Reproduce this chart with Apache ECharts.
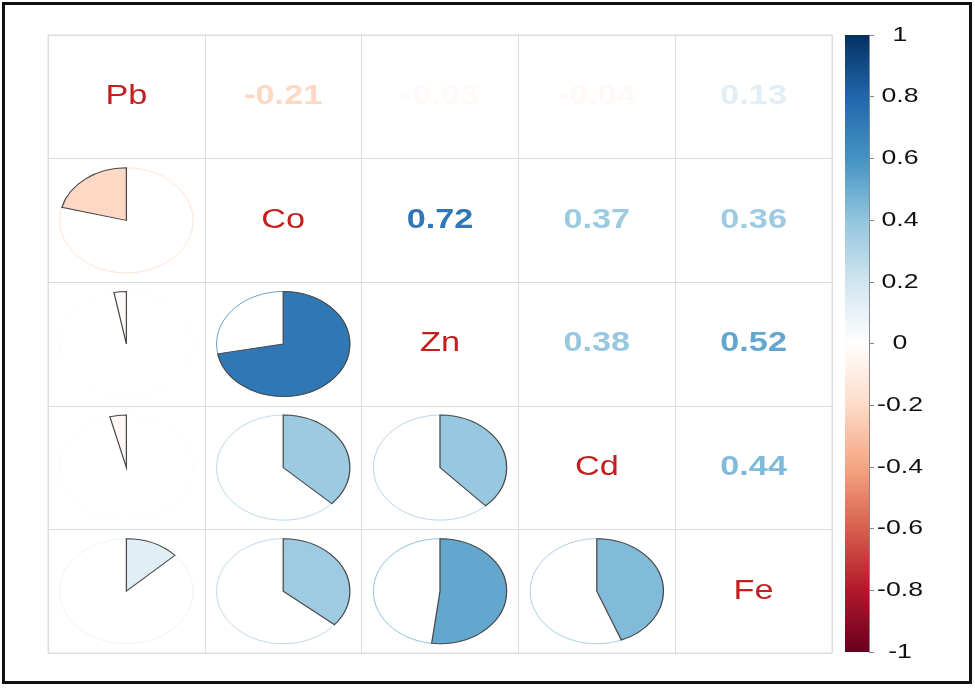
<!DOCTYPE html>
<html>
<head>
<meta charset="utf-8">
<script src="https://cdn.jsdelivr.net/npm/echarts@6/dist/echarts.min.js"></script>
<style>
  html, body { margin: 0; padding: 0; background: #fff; }
  #main { width: 975px; height: 689px; }
</style>
</head>
<body>
<div id="main"></div>
<script>
// variables (diagonal labels)
var vars = ['Pb', 'Co', 'Zn', 'Cd', 'Fe'];
// correlation matrix, row by row
var rowPb = [1, -0.21, -0.03, -0.04, 0.13];
var rowCo = [-0.21, 1, 0.72, 0.37, 0.36];
var rowZn = [-0.03, 0.72, 1, 0.38, 0.52];
var rowCd = [-0.04, 0.37, 0.38, 1, 0.44];
var rowFe = [0.13, 0.36, 0.52, 0.44, 1];
var corr = [rowPb, rowCo, rowZn, rowCd, rowFe];
// colour bar ticks
var tickValues = [1, 0.8, 0.6, 0.4, 0.2, 0, -0.2, -0.4, -0.6, -0.8, -1];
var tickLabels = ['1', '0.8', '0.6', '0.4', '0.2', '0', '-0.2', '-0.4', '-0.6', '-0.8', '-1'];
// RdBu palette, from -1 to 1
var palette = ['#67001F', '#B2182B', '#D6604D', '#F4A582', '#FDDBC7', '#FFFFFF',
               '#D1E5F0', '#92C5DE', '#4393C3', '#2166AC', '#053061'];

function hexRgb(h){
    return [parseInt(h.substr(1,2),16), parseInt(h.substr(3,2),16), parseInt(h.substr(5,2),16)];
}
function valColor(v){
    var p = (v + 1) / 2 * (palette.length - 1);
    var i = Math.min(Math.floor(p), palette.length - 2);
    var t = p - i;
    var a = hexRgb(palette[i]), b = hexRgb(palette[i+1]);
    var c = a.map(function(x, k){ return Math.round(x + (b[k] - x) * t); });
    return 'rgb(' + c.join(',') + ')';
}

var labelCells = [], numCells = [], pieCells = [];
for (var i = 0; i < vars.length; i++){
    for (var j = 0; j < vars.length; j++){
        if (i === j) labelCells.push([j, i, vars[i]]);
        else if (j > i) numCells.push([j, i, corr[i][j]]);
        else pieCells.push([j, i, corr[i][j]]);
    }
}

var dom = document.getElementById('main');
var myChart = echarts.init(dom);

var FONT = '"Liberation Sans", Arial, sans-serif';

myChart.setOption({
    backgroundColor: '#fff',
    animation: false,
    graphic: [{
        type: 'rect',
        shape: { x: 3.5, y: 3.5, width: 967, height: 679 },
        style: { fill: 'none', stroke: '#111', lineWidth: 3 },
        z: 100
    }],
    grid: [
        { left: 48, top: 35, width: 784, height: 618, show: true, borderColor: '#dcdcdc', borderWidth: 1 },
        { left: 845, top: 35, width: 24, height: 617 }
    ],
    xAxis: [
        {
            gridIndex: 0, type: 'category', data: vars,
            axisLine: { show: false }, axisTick: { show: false }, axisLabel: { show: false },
            splitLine: { show: true, lineStyle: { color: '#dcdcdc', width: 1 } }
        },
        {
            gridIndex: 1, type: 'category', data: ['bar'],
            axisLine: { show: false }, axisTick: { show: false }, axisLabel: { show: false }
        }
    ],
    yAxis: [
        {
            gridIndex: 0, type: 'category', data: vars, inverse: true,
            axisLine: { show: false }, axisTick: { show: false }, axisLabel: { show: false },
            splitLine: { show: true, lineStyle: { color: '#dcdcdc', width: 1 } }
        },
        {
            gridIndex: 1, type: 'value', min: -1, max: 1, interval: 0.2, position: 'right',
            axisLine: { show: true, lineStyle: { color: '#888', width: 1 } },
            axisTick: { show: true, length: 5, lineStyle: { color: '#888' } },
            axisLabel: { show: false },
            splitLine: { show: false }
        }
    ],
    series: [
        {
            // pies in the lower triangle
            type: 'custom', xAxisIndex: 0, yAxisIndex: 0,
            data: pieCells,
            renderItem: function(params, api){
                var c = api.coord([api.value(0), api.value(1)]);
                var s = api.size([1, 1]);
                var sx = s[0] / s[1];
                var r = s[1] * 0.425;
                var v = api.value(2);
                var col = valColor(v);
                var a0 = -Math.PI / 2, a1 = -Math.PI / 2 + 2 * Math.PI * v;
                return {
                    type: 'group',
                    children: [
                        {
                            type: 'ellipse',
                            shape: { cx: c[0], cy: c[1], rx: r * sx, ry: r },
                            style: { fill: 'none', stroke: col, lineWidth: 1, opacity: 0.7 }
                        },
                        {
                            type: 'sector',
                            x: c[0], y: c[1], scaleX: sx,
                            shape: { cx: 0, cy: 0, r0: 0, r: r,
                                     startAngle: Math.min(a0, a1), endAngle: Math.max(a0, a1), clockwise: true },
                            style: { fill: col, stroke: '#4a4a4a', lineWidth: 1, strokeNoScale: true }
                        }
                    ]
                };
            }
        },
        {
            // coefficients in the upper triangle
            type: 'custom', xAxisIndex: 0, yAxisIndex: 0,
            data: numCells,
            renderItem: function(params, api){
                var c = api.coord([api.value(0), api.value(1)]);
                var s = api.size([1, 1]);
                var v = api.value(2);
                return {
                    type: 'text', x: c[0], y: c[1], scaleX: s[0] / s[1],
                    style: {
                        text: v.toFixed(2), fill: valColor(v),
                        font: 'bold 27px ' + FONT, align: 'center', verticalAlign: 'middle'
                    }
                };
            }
        },
        {
            // variable names on the diagonal
            type: 'custom', xAxisIndex: 0, yAxisIndex: 0,
            data: labelCells,
            renderItem: function(params, api){
                var c = api.coord([api.value(0), api.value(1)]);
                var s = api.size([1, 1]);
                return {
                    type: 'text', x: c[0], y: c[1], scaleX: s[0] / s[1],
                    style: {
                        text: labelCells[params.dataIndex][2], fill: '#c41e1e',
                        font: '27px ' + FONT, align: 'center', verticalAlign: 'middle'
                    }
                };
            }
        },
        {
            // colour bar
            type: 'custom', xAxisIndex: 1, yAxisIndex: 1,
            data: [[0, 1, -1]],
            renderItem: function(params, api){
                var top = api.coord([0, api.value(1)]);
                var bot = api.coord([0, api.value(2)]);
                var w = api.size([1, 0])[0];
                var stops = palette.slice().reverse().map(function(col, k){
                    return { offset: k / (palette.length - 1), color: col };
                });
                return {
                    type: 'rect',
                    shape: { x: top[0] - w / 2, y: top[1], width: w, height: bot[1] - top[1] },
                    style: { fill: new echarts.graphic.LinearGradient(0, 0, 0, 1, stops) }
                };
            }
        },
        {
            // colour bar tick labels
            type: 'custom', xAxisIndex: 1, yAxisIndex: 1,
            data: tickValues.map(function(v, k){ return [0, v, k]; }),
            renderItem: function(params, api){
                var p = api.coord([0, api.value(1)]);
                var w = api.size([1, 0])[0];
                return {
                    type: 'text', x: p[0] + w / 2 + 31, y: p[1], scaleX: 1.27,
                    style: {
                        text: tickLabels[api.value(2)], fill: '#111',
                        font: '21px ' + FONT, align: 'center', verticalAlign: 'middle'
                    }
                };
            }
        }
    ]
});
window.addEventListener('resize', function(){
    myChart.resize();
});
</script>
</body>
</html>
